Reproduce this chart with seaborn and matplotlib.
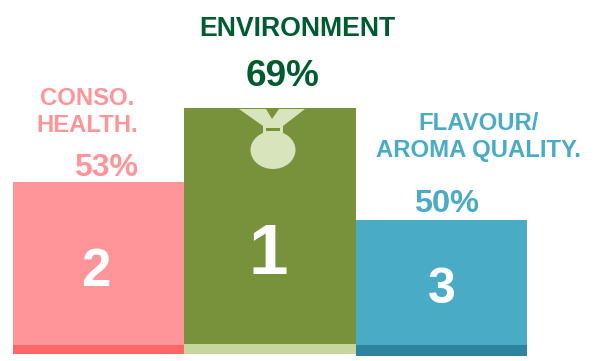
import matplotlib
matplotlib.use("Agg")
import matplotlib.pyplot as plt
import seaborn as sns
import pandas as pd
from matplotlib.patches import Polygon, Ellipse, Rectangle

ranks = ["2", "1", "3"]
names = ["CONSO.\nHEALTH.", "ENVIRONMENT", "FLAVOUR/\nAROMA QUALITY."]
shares = ["53%", "69%", "50%"]
podium_heights = [163, 236, 125]
podium_bottoms = [9, 10, 9]
base_heights = [9, 10, 11]
base_bottoms = [0, 0, -2]
podium_colors = ["#FF9599", "#78923C", "#4AABC7"]
base_colors = ["#FF6666", "#C5D79C", "#2E839E"]
name_colors = ["#FF9599", "#005C2E", "#4AABC7"]
W, H = 596, 361

sns.set_style("white")
plt.rcParams["font.family"] = ["Liberation Sans", "DejaVu Sans"]
fig = plt.figure(figsize=(W / 100, H / 100), dpi=100)
ax = fig.add_axes([0, 0, 1, 1])
df = pd.DataFrame({"rank": ranks, "h": podium_heights, "b": base_heights})
for i in range(len(ranks)):
    row = df.iloc[[i]]
    sns.barplot(data=row, x="rank", y="b", order=ranks, color=base_colors[i], width=1,
                ax=ax, saturation=1, bottom=base_bottoms[i], linewidth=0)
    sns.barplot(data=row, x="rank", y="h", order=ranks, color=podium_colors[i], width=1,
                ax=ax, saturation=1, bottom=podium_bottoms[i], linewidth=0)
step = 171.3
ax.set_xlim(-0.5 - 13 / step, -0.5 + (W - 13) / step)
ax.set_ylim(-(H - 354), 354)
ax.axis("off")

def px(x, y):
    return (-0.5 + (x - 13) / step, 354 - y)

rank_pos = [(96, 266, 38), (268, 248, 51), (442, 285, 36)]
for r, (x, y, s) in zip(ranks, rank_pos):
    ax.text(*px(x, y), r, color="white", fontsize=s, fontweight="bold", ha="center", va="center_baseline")

name_pos = [(87, 112, 17.2), (297, 29, 19.2), (479, 137, 17.2)]
for t, (x, y, s), c in zip(names, name_pos, name_colors):
    ax.text(*px(x, y), t, color=c, fontsize=s, fontweight="bold", ha="center", va="center", linespacing=1.25)

share_pos = [(106, 164, 23), (283, 73, 26.6), (447, 200, 23.4)]
for t, (x, y, s), c in zip(shares, share_pos, name_colors):
    ax.text(*px(x, y), t, color=c, fontsize=s, fontweight="bold", ha="center", va="center_baseline")

# medal emblem
medal = "#D8E4BC"
ribbon = [(239, 109), (266, 109), (272, 119), (279, 109), (305, 109), (283, 126), (263, 126)]
ax.add_patch(Polygon([px(*p) for p in ribbon], closed=True, facecolor=medal, lw=0))
ax.add_patch(Rectangle(px(263, 134), 20 / step, 9, facecolor=medal, lw=0))
ax.add_patch(Rectangle(px(266, 131), 14 / step, 3, facecolor=podium_colors[1], lw=0))
ax.add_patch(Ellipse(px(273, 150), 45 / step, 38, facecolor=medal, lw=0))
fig.savefig("out.png", dpi=100)
